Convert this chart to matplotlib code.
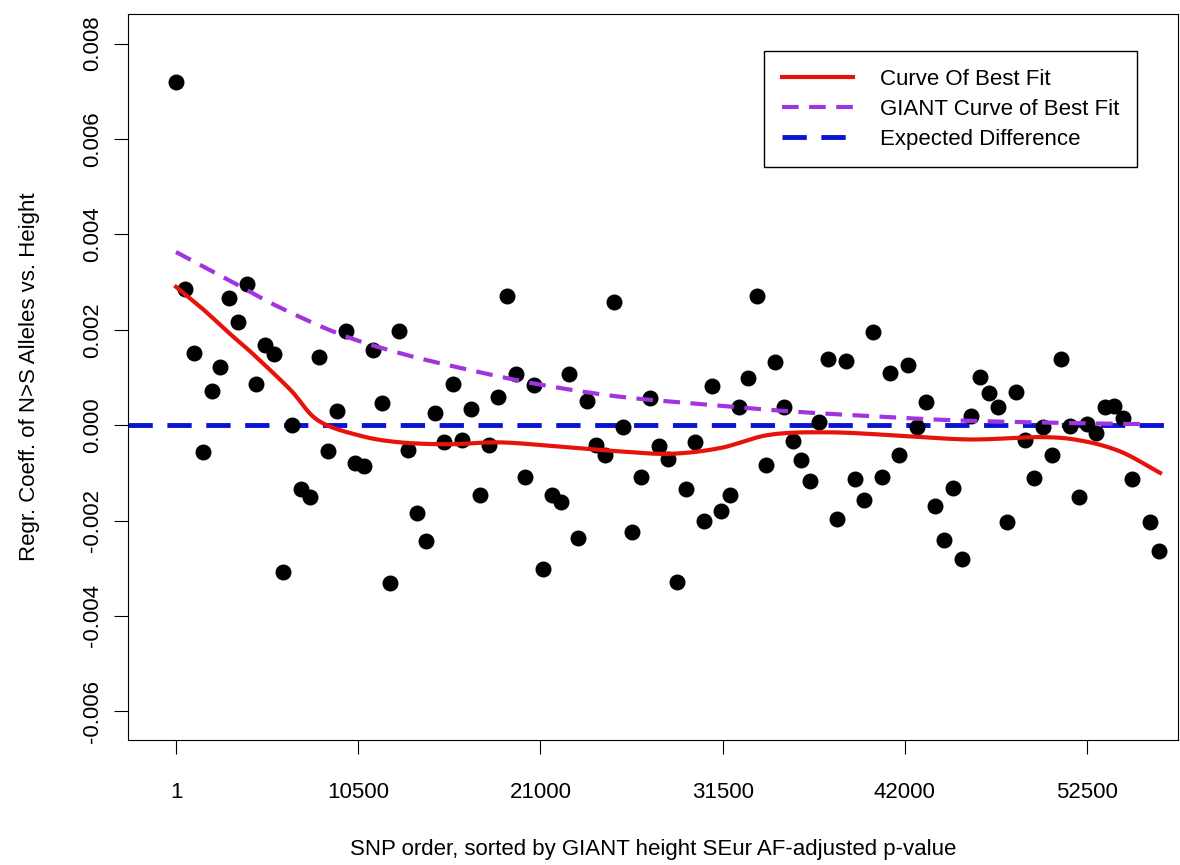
import numpy as np
import matplotlib
matplotlib.use("Agg")
from matplotlib import pyplot as plt

plt.rcParams['font.family'] = ['Liberation Sans', 'DejaVu Sans']

snp_x = [1, 520, 1038, 1557, 2076, 2537, 3055, 3574, 4092, 4611, 5130, 5648, 6167, 6686,
         7204, 7723, 8242, 8760, 9279, 9798, 10316, 10835, 11354, 11872, 12333, 12852, 13370,
         13889, 14408, 14926, 15445, 15964, 16482, 17001, 17520, 18038, 18557, 19076, 19594,
         20113, 20632, 21150, 21669, 22188, 22649, 23167, 23686, 24205, 24723, 25242, 25761,
         26279, 26798, 27317, 27835, 28354, 28873, 29391, 29910, 30429, 30890, 31408, 31927,
         32446, 32964, 33483, 34002, 34520, 35039, 35558, 36019, 36537, 37056, 37575, 38093,
         38612, 39131, 39649, 40168, 40687, 41148, 41666, 42185, 42704, 43222, 43741, 44260,
         44778, 45297, 45816, 46334, 46853, 47372, 47891, 48409, 48928, 49446, 49965, 50484,
         51002, 51521, 52040, 52501, 53019, 53538, 54057, 54575, 55094, 56131, 56650]
coef = [7.19, 2.85, 1.51, -0.57, 0.71, 1.22, 2.66, 2.16, 2.96, 0.86, 1.68, 1.49, -3.08, 0.0,
        -1.34, -1.51, 1.43, -0.55, 0.29, 1.97, -0.80, -0.86, 1.57, 0.46, -3.31, 1.97, -0.52,
        -1.84, -2.43, 0.25, -0.36, 0.86, -0.31, 0.34, -1.47, -0.42, 0.59, 2.70, 1.07, -1.09,
        0.84, -3.02, -1.47, -1.61, 1.07, -2.37, 0.50, -0.42, -0.63, 2.58, -0.04, -2.24, -1.09,
        0.57, -0.44, -0.71, -3.29, -1.34, -0.36, -2.01, 0.82, -1.80, -1.47, 0.38, 0.99, 2.70,
        -0.84, 1.32, 0.38, -0.34, -0.73, -1.17, 0.06, 1.38, -1.97, 1.34, -1.13, -1.57, 1.95,
        -1.09, 1.09, -0.63, 1.26, -0.04, 0.48, -1.70, -2.40, -1.32, -2.80, 0.19, 1.01, 0.67,
        0.38, -2.03, 0.69, -0.31, -1.11, -0.04, -0.63, 1.38, -0.02, -1.51, 0.02, -0.17, 0.38,
        0.40, 0.15, -1.13, -2.03, -2.64]
coef = np.array(coef) / 1000

fit_x = [1, 1500, 3000, 4265, 6571, 8184, 10605, 12910, 15792, 18674, 22132, 25590, 28472,
         31354, 34235, 37693, 41727, 45762, 49795, 52100, 54405, 56710]
fit_y = np.array([2.90, 2.45, 1.95, 1.55, 0.75, 0.10, -0.22, -0.36, -0.40, -0.36, -0.45,
                  -0.55, -0.60, -0.48, -0.20, -0.15, -0.22, -0.30, -0.25, -0.32, -0.55,
                  -1.00]) / 1000

giant_x = [1, 3000, 5800, 9500, 13000, 17000, 21000, 25500, 30000, 35000, 39500, 45000,
           50800, 56000]
giant_y = np.array([3.63, 3.05, 2.50, 1.90, 1.50, 1.15, 0.85, 0.60, 0.45, 0.30, 0.20, 0.10,
                    0.05, 0.02]) / 1000

xticks = [1, 10500, 21000, 31500, 42000, 52500]
yticks = [-0.006, -0.004, -0.002, 0.0, 0.002, 0.004, 0.006, 0.008]


def smooth(xs, ys, n=20):
    # catmull-rom through the read points, just for drawing
    xs = np.asarray(xs, float)
    ys = np.asarray(ys, float)
    px = np.concatenate([[2 * xs[0] - xs[1]], xs, [2 * xs[-1] - xs[-2]]])
    py = np.concatenate([[2 * ys[0] - ys[1]], ys, [2 * ys[-1] - ys[-2]]])
    ox, oy = [], []
    t = np.linspace(0, 1, n, endpoint=False)
    for i in range(1, len(px) - 2):
        for p, o in ((px, ox), (py, oy)):
            a, b, c, d = p[i - 1], p[i], p[i + 1], p[i + 2]
            o.extend(0.5 * (2 * b + (c - a) * t + (2 * a - 5 * b + 4 * c - d) * t ** 2
                            + (3 * b - a - 3 * c + d) * t ** 3))
    ox.append(xs[-1])
    oy.append(ys[-1])
    return ox, oy


fig = plt.figure(figsize=(11.8, 8.65), dpi=100)
ax = fig.add_axes([128/1180, 125/865, 1050/1180, 726/865])
ax.scatter(snp_x, coef, s=110, color='black', zorder=3)
sx, sy = smooth(fit_x, fit_y)
ax.plot(sx, sy, color='#e8120c', lw=3, label='Curve Of Best Fit', zorder=4)
gx, gy = smooth(giant_x, giant_y)
ax.plot(gx, gy, color='#a035e0', lw=3, ls=(0, (4, 2.5)),
        label='GIANT Curve of Best Fit', zorder=4)
ax.axhline(0, color='#0a14d0', lw=3.5, ls=(0, (5, 3)), label='Expected Difference', zorder=2)

ax.set_xlim(-2766, 57743)
ax.set_ylim(-0.0066, 0.00862)
ax.set_xticks(xticks)
ax.set_xticklabels([str(t) for t in xticks])
ax.set_yticks(yticks)
ax.set_yticklabels(['%.3f' % t for t in yticks], rotation=90, va='center')
ax.tick_params(labelsize=16, length=10)
ax.tick_params(axis='x', pad=20)
ax.tick_params(axis='y', pad=8)
ax.set_xlabel('SNP order, sorted by GIANT height SEur AF-adjusted p-value', fontsize=16, labelpad=26)
ax.set_ylabel('Regr. Coeff. of N>S Alleles vs. Height', fontsize=16, labelpad=30)

leg = ax.legend(loc='upper right', bbox_to_anchor=(1009/1050, 1 - 37/726), fontsize=16,
                fancybox=False, framealpha=1, edgecolor='black', handlelength=3.2,
                handletextpad=1.2, borderpad=0.8, labelspacing=0.4, borderaxespad=0)
leg.get_frame().set_linewidth(1.0)

fig.savefig('out.png', dpi=100)
